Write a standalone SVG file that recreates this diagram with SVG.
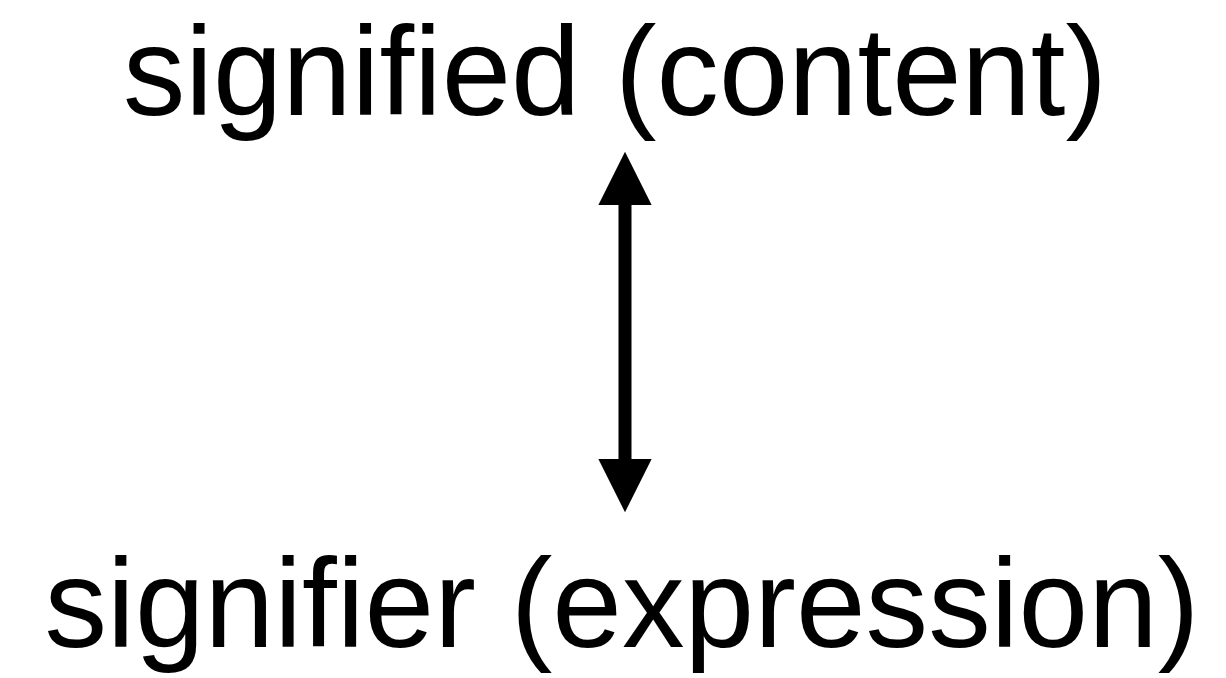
<svg xmlns="http://www.w3.org/2000/svg" width="1226" height="678" viewBox="0 0 1226 678">
<style>
.lbl{font-family:"Liberation Sans",Arial,Helvetica,sans-serif;font-size:126px;fill:#000;text-anchor:middle}
.conn{stroke:#000;stroke-width:13;fill:none}
</style>
<defs>
<marker id="ah" viewBox="0 0 10 10" refX="0" refY="5" markerWidth="4.1" markerHeight="4.1" orient="auto-start-reverse" markerUnits="strokeWidth">
<path d="M0,0 L10,5 L0,10 z" fill="#000"/>
</marker>
</defs>
<rect width="1226" height="678" fill="#fff"/>
<g id="signified">
<text class="lbl" x="615" y="115" textLength="984" lengthAdjust="spacingAndGlyphs">signified (content)</text>
</g>
<g id="signifier">
<text class="lbl" x="622" y="647" textLength="1155" lengthAdjust="spacingAndGlyphs">signifier (expression)</text>
</g>
<g id="connectors">
<line class="conn" x1="625" y1="205" x2="625" y2="459" marker-start="url(#ah)" marker-end="url(#ah)"/>
</g>
</svg>
